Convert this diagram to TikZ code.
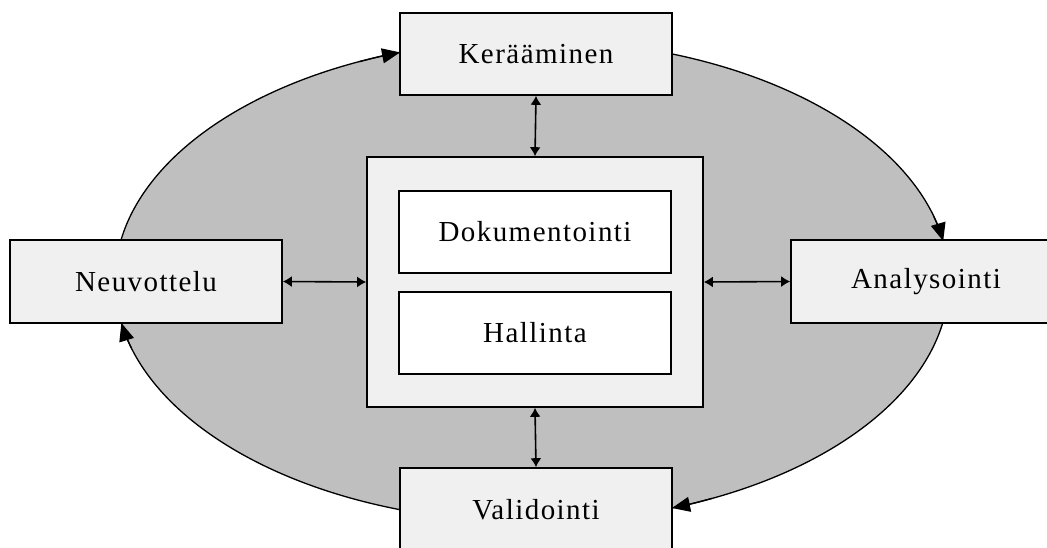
\documentclass[tikz,border=0pt]{standalone}
\usepackage{fontspec}
\setmainfont{Liberation Serif}[LetterSpace=5]
\usetikzlibrary{arrows.meta}

\definecolor{ringgray}{HTML}{BFBFBF}
\definecolor{boxgray}{HTML}{F0F0F0}

\begin{document}
\begin{tikzpicture}[x=1pt,y=1pt,
  font=\fontsize{29}{33}\selectfont,
  phase/.style={draw, line width=1.6pt, fill=boxgray, rectangle, inner sep=0pt},
  part/.style={draw, line width=1.6pt, fill=white, rectangle, inner sep=0pt,
               minimum width=272pt, minimum height=82pt},
  cycle/.style={line width=1.3pt, -{Triangle[length=18pt,width=15pt]}},
  link/.style={line width=1.6pt, {Latex[length=9pt,width=11pt]}-{Latex[length=9pt,width=11pt]}}]
\useasboundingbox (0,0) rectangle (1047,-547);

% the grey cycle with its outline
\coordinate (c) at (532,-281);
\filldraw[fill=ringgray, line width=1.3pt] (c) ellipse [x radius=417pt, y radius=241pt];

% central block
\node[phase, minimum width=336pt, minimum height=250pt] (core) at (535,-282) {};
\node[part] (doc) at (535,-232) {Dokumentointi};
\node[part] (hal) at (535,-333) {Hallinta};

% the four phases
\node[phase, minimum width=272pt, minimum height=82pt] (ker) at (536,-54) {Kerääminen};
\node[phase, minimum width=272pt, minimum height=83pt] (neu) at (146,-281.5) {Neuvottelu};
\node[phase, minimum width=270pt, minimum height=83pt] (ana) at (926,-281.5) {Analysointi};
\node[phase, minimum width=272pt, minimum height=83pt] (val) at (536,-509.5) {Validointi};

% clockwise heads of the cycle, ending on the phase borders
\draw[cycle] (c) ++(114.45:417pt and 241pt)
  arc[start angle=114.45, end angle=108.45, x radius=417pt, y radius=241pt];
\draw[cycle] (c) ++(15.55:417pt and 241pt)
  arc[start angle=15.55, end angle=9.55, x radius=417pt, y radius=241pt];
\draw[cycle] (c) ++(-64.38:417pt and 241pt)
  arc[start angle=-64.38, end angle=-70.38, x radius=417pt, y radius=241pt];
\draw[cycle] (c) ++(-163.97:417pt and 241pt)
  arc[start angle=-163.97, end angle=-169.97, x radius=417pt, y radius=241pt];

% links to the central block
\draw[link] (ker.south) -- (core.north);
\draw[link] (core.south) -- (val.north);
\draw[link] (neu.east) -- (core.west);
\draw[link] (core.east) -- (ana.west);
\end{tikzpicture}
\end{document}
